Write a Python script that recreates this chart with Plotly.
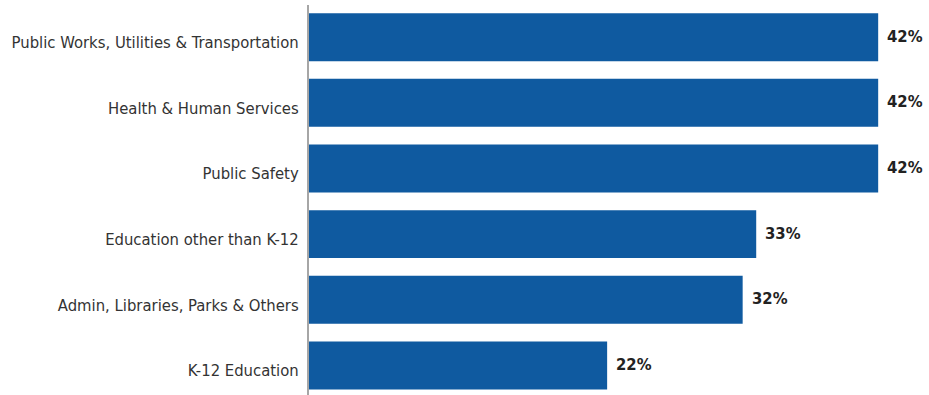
import plotly.graph_objects as go

# Share of respondents by government function
categories = [
    "Public Works, Utilities & Transportation",
    "Health & Human Services",
    "Public Safety",
    "Education other than K-12",
    "Admin, Libraries, Parks & Others",
    "K-12 Education",
]
values = [42, 42, 42, 33, 32, 22]

BAR_COLOR = "#0f5aa0"
FONT = "Liberation Sans Narrow, DejaVu Sans Condensed, Arial Narrow, sans-serif"

fig = go.Figure(
    go.Bar(
        x=values,
        y=categories,
        orientation="h",
        marker=dict(color=BAR_COLOR, line=dict(width=0)),
        width=0.73,
        hoverinfo="skip",
    )
)

# Value labels just past the end of each bar
for cat, v in zip(categories, values):
    fig.add_annotation(
        x=v,
        y=cat,
        text=f"<b>{v}%</b>",
        showarrow=False,
        xanchor="left",
        xshift=7,
        yshift=1,
        font=dict(family=FONT, size=16.5, color="#222222"),
    )

fig.update_layout(
    width=929,
    height=395,
    margin=dict(l=309, r=0, t=5, b=0),
    paper_bgcolor="white",
    plot_bgcolor="white",
    showlegend=False,
    xaxis=dict(
        range=[0, 45.75],
        showgrid=False,
        zeroline=False,
        showticklabels=False,
        showline=False,
        fixedrange=True,
        automargin=False,
    ),
    yaxis=dict(
        categoryorder="array",
        categoryarray=categories,
        range=[5.45, -0.49],
        showgrid=False,
        zeroline=False,
        showline=True,
        linecolor="#a6a6a6",
        linewidth=2,
        ticks="",
        ticklabelstandoff=5,
        ticklabelshift=-5,
        tickfont=dict(family=FONT, size=16.5, color="#333333"),
        fixedrange=True,
        automargin=False,
    ),
)

fig.write_html("out.html")
